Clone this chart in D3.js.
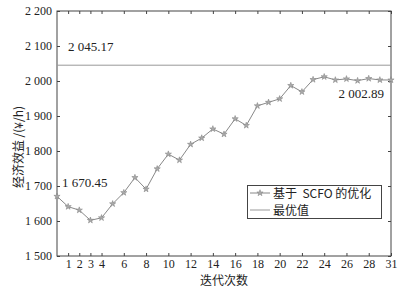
<!DOCTYPE html>
<html><head><meta charset="utf-8">
<script src="https://cdn.jsdelivr.net/npm/d3@7"></script>
<style>body{margin:0;background:#fff}svg{display:block}</style>
</head><body>
<script>
const iterations = d3.range(0, 31);
const benefit = [1670.45,1641,1631,1602,1609,1649,1681,1724,1691,1749,1791,1774,1819,1837,1863,1848,1892,1873,1929,1939,1949,1987,1969,2004,2012,2003,2006,2001,2007,2003,2002.89];
const bestValue = 2045.17;
const yTicks = [1500,1600,1700,1800,1900,2000,2100,2200];
const yTickLabels = ["1 500","1 600","1 700","1 800","1 900","2 000","2 100","2 200"];
const xTicks = [1,2,3,4,6,8,10,12,14,16,18,20,22,24,26,28,30];
const xTickLabels = ["1","2","3","4","6","8","10","12","14","16","18","20","22","24","26","28","31"];
const annotations = [
  {i:0, v:1670.45, text:"1 670.45"},
  {i:30, v:2002.89, text:"2 002.89"},
  {i:null, v:bestValue, text:"2 045.17"}
];
const legendLabels = ["基于  SCFO 的优化", "最优值"];

const W=413,H=289;
const m={l:57,r:22,t:11,b:33};
const svg=d3.select("body").append("svg").attr("width",W).attr("height",H);
const x=d3.scaleLinear().domain([0,30]).range([m.l,W-m.r]);
const y=d3.scaleLinear().domain([1500,2200]).range([H-m.b,m.t]);
const font='"Liberation Serif","Times New Roman",serif';
const cjk='"Noto Sans CJK SC","Liberation Serif",serif';
const axisCol="#444", textCol="#222";

function styleAxis(g,showText){
  g.select(".domain").remove();
  g.selectAll("line").attr("stroke",axisCol);
  g.selectAll("text").attr("fill",textCol).style("font-family",font).style("font-size","12px");
  if(!showText) g.selectAll("text").remove();
}
const fmtX=(d)=>xTickLabels[xTicks.indexOf(d)];
const fmtY=(d)=>yTickLabels[yTicks.indexOf(d)];
svg.append("g").attr("transform",`translate(0,${H-m.b})`)
  .call(d3.axisBottom(x).tickValues(xTicks).tickFormat(fmtX).tickSizeInner(-3).tickSizeOuter(0).tickPadding(3))
  .call(g=>styleAxis(g,true));
svg.append("g").attr("transform",`translate(0,${m.t})`)
  .call(d3.axisTop(x).tickValues(xTicks).tickSizeInner(-3).tickSizeOuter(0))
  .call(g=>styleAxis(g,false));
svg.append("g").attr("transform",`translate(${m.l},0)`)
  .call(d3.axisLeft(y).tickValues(yTicks).tickFormat(fmtY).tickSizeInner(-3).tickSizeOuter(0).tickPadding(5))
  .call(g=>styleAxis(g,true));
svg.append("g").attr("transform",`translate(${W-m.r},0)`)
  .call(d3.axisRight(y).tickValues(yTicks).tickSizeInner(-3).tickSizeOuter(0))
  .call(g=>styleAxis(g,false));
svg.append("rect").attr("x",m.l).attr("y",m.t).attr("width",W-m.r-m.l).attr("height",H-m.b-m.t)
  .attr("fill","none").attr("stroke",axisCol).attr("stroke-width",1);

// best value line
svg.append("line").attr("x1",x(0)).attr("x2",x(30)).attr("y1",y(bestValue)).attr("y2",y(bestValue))
  .attr("stroke","#999").attr("stroke-width",1);

// series
svg.append("path").datum(iterations)
  .attr("d",d3.line().x(i=>x(i)).y(i=>y(benefit[i])))
  .attr("fill","none").attr("stroke","#888").attr("stroke-width",1);
const star=d3.symbol().type(d3.symbolStar).size(12);
svg.selectAll(".pt").data(iterations).join("path")
  .attr("transform",i=>`translate(${x(i)},${y(benefit[i])})`)
  .attr("d",star).attr("fill","#aaa").attr("stroke","#888").attr("stroke-width",0.6);

// annotations
svg.append("text").attr("x",x(0)+5).attr("y",y(annotations[0].v)-9).text(annotations[0].text)
  .attr("fill",textCol).style("font-family",font).style("font-size","13px");
svg.append("text").attr("x",x(30)-7).attr("y",y(annotations[1].v)+18).attr("text-anchor","end").text(annotations[1].text)
  .attr("fill",textCol).style("font-family",font).style("font-size","13px");
svg.append("text").attr("x",x(0)+11).attr("y",y(annotations[2].v)-14).text(annotations[2].text)
  .attr("fill",textCol).style("font-family",font).style("font-size","13px");

// axis titles
svg.append("text").attr("x",x(15)).attr("y",285).attr("text-anchor","middle").text("迭代次数")
  .attr("fill",textCol).style("font-family",cjk).style("font-size","12px");
svg.append("text").attr("transform",`translate(23,147) rotate(-90)`).attr("text-anchor","middle")
  .text("经济效益 /(¥/h)").attr("fill",textCol).style("font-family",cjk).style("font-size","12px");

// legend
const lg=svg.append("g");
lg.append("rect").attr("x",247.5).attr("y",185.5).attr("width",134).attr("height",33)
  .attr("fill","#fff").attr("stroke",axisCol);
const rows=[193,210];
lg.append("line").attr("x1",250).attr("x2",270).attr("y1",rows[0]).attr("y2",rows[0]).attr("stroke","#888");
lg.append("path").attr("transform",`translate(260,${rows[0]})`).attr("d",star).attr("fill","#aaa").attr("stroke","#888").attr("stroke-width",0.6);
lg.append("line").attr("x1",250).attr("x2",270).attr("y1",rows[1]).attr("y2",rows[1]).attr("stroke","#999");
legendLabels.forEach((t,k)=>{
  lg.append("text").attr("x",273).attr("y",rows[k]+4.5).text(t).attr("fill",textCol)
    .style("font-family",cjk).style("font-size","12px").style("white-space","pre").attr("xml:space","preserve");
});
</script>
</body></html>
